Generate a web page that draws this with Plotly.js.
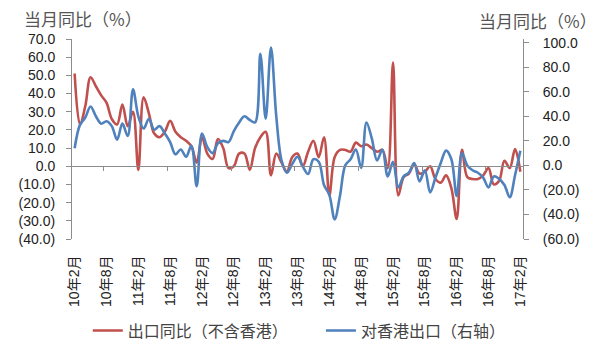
<!DOCTYPE html>
<html>
<head>
<meta charset="utf-8">
<script src="https://cdn.plot.ly/plotly-3.0.1.min.js"></script>
<style>html,body{margin:0;padding:0;background:#fff;}#chart{width:600px;height:359px;}</style>
</head>
<body>
<div id="chart"></div>
<script>
// Months: Feb 2010 .. Feb 2017 (85 months)
const startYear = 10, startMonth = 2, monthCount = 85;
const months = [];
for (let k = 0; k < monthCount; k++) {
  const m = startMonth - 1 + k;
  months.push((startYear + Math.floor(m / 12)) + '年' + (m % 12 + 1) + '月');
}
const xIdx = months.map((_, i) => i);

// 出口同比（不含香港）, left axis, %
const exportsExHK = [
  51, 23, 33, 49, 44, 39, 35, 26, 23, 34, 22, 30, -2, 38, 29,
  18, 16, 19, 25, 19, 16, 14, 11, 2, 16, 7, 4, 15, 10,
  -1, 0, 7, 7, -2, 10, 16, 19, -5, 7, 2, -3, 5, 7,
  0, 8, 14, 5, 16, -16, 5, 9, 9, 8, 13, 11, 12, 10,
  8, 9, -1, 57, -16, -6, -4, 1, -4, -3, 0, -7, -9, -5, -12,
  -29, 9, -6, -7, -7, -5, -1, -10, -8, 3, -1, 9.5, -3
];
// 对香港出口（右轴）, right axis, %
const exportsToHK = [
  14, 33, 39, 48, 40, 34, 36, 32, 21, 34, 24, 62, 40, 30, 38,
  29, 32, 26, 19, 9, 13, 7, 16, -17, 26, 15, 10, 18, 20,
  19, 28, 35, 40, 37, 35, 91, 38, 96, 40, 4, -6, 1, 7,
  -1, -7, 5, 3, -16, -24, -44, -25, 0, 5, 13, -2, 35, 22,
  4, 13, -9, 3, -18, -9, -6, 2, -13, -4, -22, -10, 2, 12, 5,
  -25, 10, 0, -4, -6, -10, -18, -9, -11, -16, -26, -8, 12
];

const leftTicks = [70, 60, 50, 40, 30, 20, 10, 0, -10, -20, -30, -40];
const rightTicks = [100, 80, 60, 40, 20, 0, -20, -40, -60];
const fmt = v => v < 0 ? '(' + Math.abs(v).toFixed(1) + ')' : v.toFixed(1);

const labelStep = 6;
const xTickVals = xIdx.filter(i => i % labelStep === 0);
const xTickText = xTickVals.map(i => months[i]);
const yearTickVals = xIdx.filter(i => i % 12 === 5).map(i => i + 0.5);

const RED = '#C0504D', BLUE = '#4F81BD';
const numFont = {family: 'Liberation Sans, Noto Sans CJK SC, sans-serif', size: 14, color: '#222'};
const legFont = {family: 'Noto Sans CJK SC, sans-serif', size: 16, color: '#444'};

const traces = [
  {x: xIdx, y: exportsExHK, name: '出口同比（不含香港）', type: 'scatter', mode: 'lines',
   line: {color: RED, width: 2.6, shape: 'spline', smoothing: 1}, xaxis: 'x', yaxis: 'y', legend: 'legend'},
  {x: xIdx, y: exportsToHK, name: '对香港出口（右轴）', type: 'scatter', mode: 'lines',
   line: {color: BLUE, width: 2.6, shape: 'spline', smoothing: 1}, xaxis: 'x2', yaxis: 'y2', legend: 'legend2'}
];

const layout = {
  width: 600, height: 359,
  margin: {l: 72, r: 77, t: 39, b: 117},
  paper_bgcolor: '#fff', plot_bgcolor: '#fff',
  showlegend: true,
  legend: {orientation: 'h', x: 0.035, xanchor: 'left', y: -0.458, yanchor: 'middle',
           bgcolor: 'rgba(0,0,0,0)', font: legFont},
  legend2: {orientation: 'h', x: 0.552, xanchor: 'left', y: -0.458, yanchor: 'middle',
            bgcolor: 'rgba(0,0,0,0)', font: legFont},
  xaxis: {type: 'linear', range: [-0.5, 84.5], showgrid: false, zeroline: false, showline: false,
          tickmode: 'array', tickvals: xTickVals, ticktext: xTickText, tickangle: -90,
          ticks: 'outside', ticklen: 10, tickcolor: 'rgba(0,0,0,0)', tickfont: numFont, fixedrange: true},
  xaxis2: {type: 'linear', matches: 'x', overlaying: 'x', anchor: 'free', position: 40 / 110,
           showgrid: false, zeroline: false, showline: true, linecolor: '#8c8c8c', linewidth: 1,
           tickmode: 'array', tickvals: yearTickVals, ticks: 'outside', ticklen: 4, tickcolor: '#8c8c8c',
           showticklabels: false},
  yaxis: {range: [-40, 70], showgrid: false, zeroline: false, showline: true, linecolor: '#8c8c8c',
          tickmode: 'array', tickvals: leftTicks, ticktext: leftTicks.map(fmt),
          ticks: 'outside', ticklen: 5, tickcolor: '#8c8c8c', ticklabelstandoff: 8, tickfont: numFont},
  yaxis2: {range: [-60, 103], overlaying: 'y', side: 'right', showgrid: false, zeroline: false,
           showline: true, linecolor: '#8c8c8c',
           tickmode: 'array', tickvals: rightTicks, ticktext: rightTicks.map(fmt),
           ticks: 'outside', ticklen: 5, tickcolor: '#8c8c8c', ticklabelstandoff: 11, tickfont: numFont},
  annotations: [
    {text: '当月同比（%）', xref: 'paper', yref: 'paper', x: 0.025, y: 1.105, xanchor: 'center', yanchor: 'middle',
     showarrow: false, font: {family: 'Noto Sans CJK SC, sans-serif', size: 17, color: '#555'}},
    {text: '当月同比（%）', xref: 'paper', yref: 'paper', x: 1.034, y: 1.095, xanchor: 'center', yanchor: 'middle',
     showarrow: false, font: {family: 'Noto Sans CJK SC, sans-serif', size: 17, color: '#555'}}
  ]
};

Plotly.newPlot('chart', traces, layout, {staticPlot: true, displayModeBar: false});
</script>
</body>
</html>
